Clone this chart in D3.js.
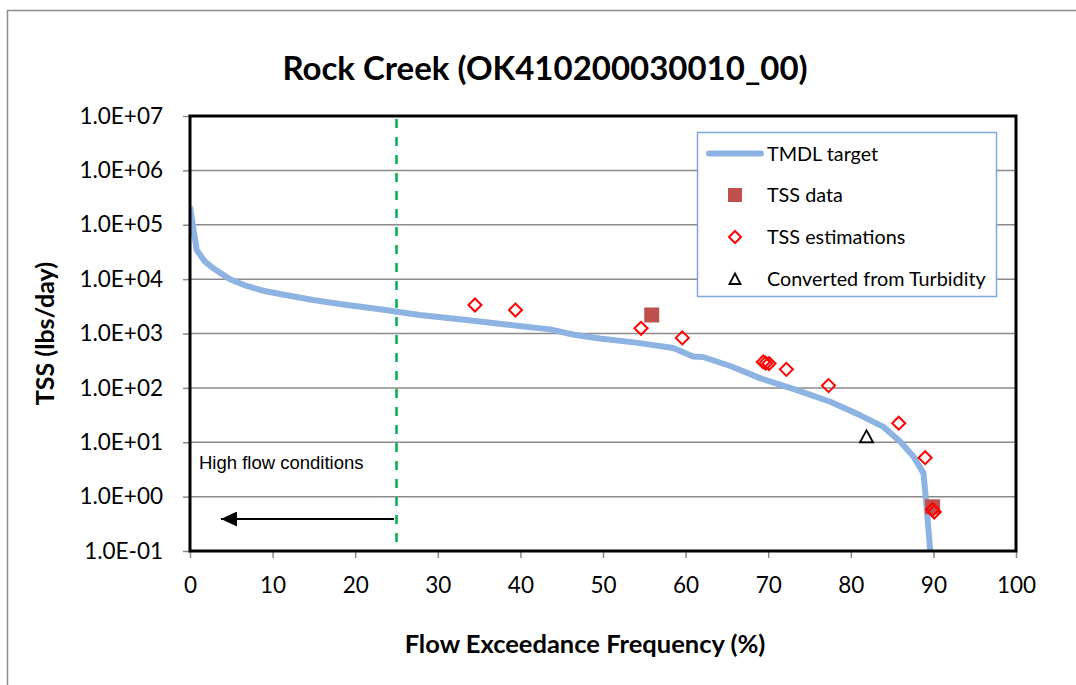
<!DOCTYPE html>
<html>
<head>
<meta charset="utf-8">
<script src="https://cdn.jsdelivr.net/npm/d3@7"></script>
<style>
  body { margin: 0; background: #fff; }
  svg { display: block; }
</style>
</head>
<body>
<svg id="chart" width="1076" height="685"></svg>
<script>
// ---- data ----
const tmdlX = [0, 0.81, 1.82, 2.82, 4.84, 6.86, 8.87, 10.9, 14.9, 19.0, 23.0, 27.8, 33.5, 38.5, 43.6, 46.5, 49.6, 54.0, 58.5, 60.9, 62.1, 65.5, 69.0, 73.4, 77.5, 81.1, 83.9, 86.0, 87.6, 88.8, 89.1, 89.7];
const tmdlY = [2.15e5, 3.44e4, 2.09e4, 1.58e4, 9.93e3, 7.48e3, 6.13e3, 5.33e3, 4.13e3, 3.34e3, 2.79e3, 2.19e3, 1.77e3, 1.45e3, 1.19e3, 950, 810, 680, 541, 376, 370, 250, 151, 92, 55.6, 31.6, 19.4, 10.2, 5.4, 2.7, 0.87, 0.07];
const dataX = [55.9, 89.9];
const dataY = [2190, 0.65];
const estX = [34.5, 39.4, 54.6, 59.6, 69.4, 69.7, 70.1, 72.2, 77.3, 85.8, 89.0, 89.9, 90.1];
const estY = [3340, 2700, 1245, 830, 300, 285, 280, 219, 110, 22.4, 5.2, 0.58, 0.52];
const turbX = [81.9];
const turbY = [12.6];
const xTicks = [0, 10, 20, 30, 40, 50, 60, 70, 80, 90, 100];
const yTicks = [1e-1, 1e0, 1e1, 1e2, 1e3, 1e4, 1e5, 1e6, 1e7];
const yTickLabels = ["1.0E-01", "1.0E+00", "1.0E+01", "1.0E+02", "1.0E+03", "1.0E+04", "1.0E+05", "1.0E+06", "1.0E+07"];
const highFlowBoundary = 25;
const legendLabels = ["TMDL target", "TSS data", "TSS estimations", "Converted from Turbidity"];
const titleText = "Rock Creek (OK410200030010_00)";

// ---- layout ----
const svg = d3.select("#chart");
const L = 190, R = 1016, T = 116, B = 551;
const x = d3.scaleLinear().domain([0, 100]).range([L, R]);
const y = d3.scaleLog().domain([1e-1, 1e7]).range([B, T]);
const font = "Lato, 'Open Sans', sans-serif";

// outer border
svg.append("rect").attr("x", 7.5).attr("y", 10.5).attr("width", 1100).attr("height", 700)
  .attr("fill", "none").attr("stroke", "#8c8c8c").attr("stroke-width", 1.5);

// title
svg.append("text").attr("x", 545).attr("y", 80).attr("text-anchor", "middle")
  .attr("font-family", font).attr("font-weight", "bold").attr("font-size", 33)
  .text(titleText);

// gridlines
svg.append("g").selectAll("line").data(yTicks.slice(1, -1)).join("line")
  .attr("x1", L).attr("x2", R).attr("y1", d => y(d)).attr("y2", d => y(d))
  .attr("stroke", "#8a8a8a").attr("stroke-width", 1.5);

// y axis
const yAxis = d3.axisLeft(y).tickValues(yTicks).tickFormat((d, i) => yTickLabels[i]).tickSize(7).tickPadding(20);
const gy = svg.append("g").attr("transform", `translate(${L},0)`).call(yAxis);
gy.select(".domain").remove();
gy.selectAll(".tick line").attr("stroke", "#8a8a8a").attr("stroke-width", 1.5);
gy.selectAll(".tick text").attr("font-family", font).attr("font-size", 22.5).attr("fill", "#000");

// x axis
const xAxis = d3.axisBottom(x).tickValues(xTicks).tickSize(7).tickPadding(19);
const gx = svg.append("g").attr("transform", `translate(0,${B})`).call(xAxis);
gx.select(".domain").remove();
gx.selectAll(".tick line").attr("stroke", "#8a8a8a").attr("stroke-width", 1.5);
gx.selectAll(".tick text").attr("font-family", font).attr("font-size", 22.5).attr("fill", "#000");

// axis titles
svg.append("text").attr("x", 585).attr("y", 653).attr("text-anchor", "middle")
  .attr("font-family", font).attr("font-weight", "bold").attr("font-size", 25.5)
  .text("Flow Exceedance Frequency (%)");
svg.append("text").attr("transform", `translate(54,${(T + B) / 2}) rotate(-90)`).attr("text-anchor", "middle")
  .attr("font-family", font).attr("font-weight", "bold").attr("font-size", 25)
  .text("TSS (lbs/day)");

// clip
svg.append("clipPath").attr("id", "clip").append("rect")
  .attr("x", L).attr("y", T).attr("width", R - L).attr("height", B - T);

// green dashed boundary
svg.append("line").attr("x1", x(highFlowBoundary)).attr("x2", x(highFlowBoundary))
  .attr("y1", T + 3).attr("y2", B).attr("stroke", "#00B050").attr("stroke-width", 2.5)
  .attr("stroke-dasharray", "9,9");

// TMDL line
const line = d3.line().x(d => x(d[0])).y(d => y(d[1]));
svg.append("path").datum(tmdlX.map((v, i) => [v, tmdlY[i]]))
  .attr("clip-path", "url(#clip)")
  .attr("d", line).attr("fill", "none").attr("stroke", "#8DB3E2").attr("stroke-width", 6)
  .attr("stroke-linejoin", "round");

// plot frame
svg.append("rect").attr("x", L).attr("y", T).attr("width", R - L).attr("height", B - T)
  .attr("fill", "none").attr("stroke", "#000").attr("stroke-width", 3);

// markers
const diamond = s => `M0,${-s}L${s},0L0,${s}L${-s},0Z`;
svg.append("g").selectAll("rect").data(dataX.map((v, i) => [v, dataY[i]])).join("rect")
  .attr("x", d => x(d[0]) - 7.5).attr("y", d => y(d[1]) - 7.5).attr("width", 15).attr("height", 15)
  .attr("fill", "#C0504D");
svg.append("g").selectAll("path").data(estX.map((v, i) => [v, estY[i]])).join("path")
  .attr("transform", d => `translate(${x(d[0])},${y(d[1])})`)
  .attr("d", diamond(6.5)).attr("fill", "none").attr("stroke", "#FF0000").attr("stroke-width", 2);
const tri = "M0,-6.5L6.5,5.5L-6.5,5.5Z";
svg.append("g").selectAll("path").data(turbX.map((v, i) => [v, turbY[i]])).join("path")
  .attr("transform", d => `translate(${x(d[0])},${y(d[1])})`)
  .attr("d", tri).attr("fill", "none").attr("stroke", "#000").attr("stroke-width", 1.8);

// high flow annotation
svg.append("text").attr("x", 199).attr("y", 469).attr("font-family", "'Liberation Sans', Arial, sans-serif")
  .attr("font-size", 18.5).text("High flow conditions");
svg.append("defs").append("marker").attr("id", "arrow").attr("viewBox", "0 0 16 15")
  .attr("refX", 16).attr("refY", 7.5).attr("markerWidth", 16).attr("markerHeight", 15)
  .attr("markerUnits", "userSpaceOnUse").attr("orient", "auto")
  .append("path").attr("d", "M0,0L16,7.5L0,15Z").attr("fill", "#000");
svg.append("line").attr("x1", 394).attr("x2", 221).attr("y1", 519).attr("y2", 519)
  .attr("stroke", "#000").attr("stroke-width", 2).attr("marker-end", "url(#arrow)");

// legend
const lg = svg.append("g");
lg.append("rect").attr("x", 697.5).attr("y", 132.5).attr("width", 299).attr("height", 164)
  .attr("fill", "#fff").attr("stroke", "#7EA6E0").attr("stroke-width", 1.5);
const rowY = [153.5, 195, 237, 279];
lg.append("line").attr("x1", 709).attr("x2", 761).attr("y1", rowY[0]).attr("y2", rowY[0])
  .attr("stroke", "#8DB3E2").attr("stroke-width", 6).attr("stroke-linecap", "round");
lg.append("rect").attr("x", 735 - 7).attr("y", rowY[1] - 7).attr("width", 14).attr("height", 14).attr("fill", "#C0504D");
lg.append("path").attr("transform", `translate(735,${rowY[2]})`).attr("d", diamond(6)).attr("fill", "none")
  .attr("stroke", "#FF0000").attr("stroke-width", 2);
lg.append("path").attr("transform", `translate(735,${rowY[3]})`).attr("d", "M0,-5.5L5.5,5L-5.5,5Z").attr("fill", "none")
  .attr("stroke", "#000").attr("stroke-width", 1.8);
lg.selectAll("text.lbl").data(legendLabels).join("text").attr("class", "lbl")
  .attr("x", 767).attr("y", (d, i) => rowY[i] + 7).attr("font-family", font).attr("font-size", 19.8)
  .text(d => d);
</script>
</body>
</html>
